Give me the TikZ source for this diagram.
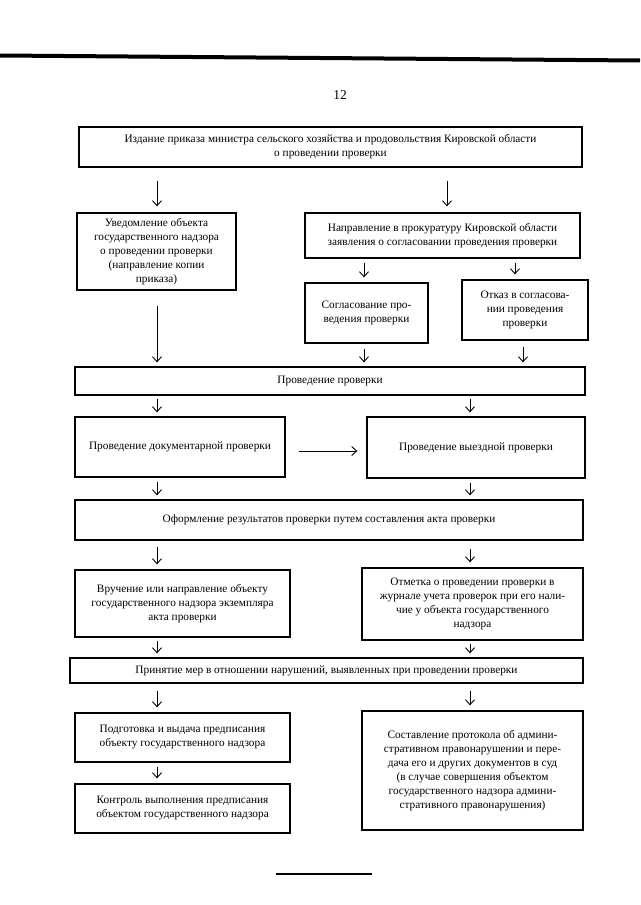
\documentclass[tikz,border=0pt]{standalone}
\usepackage{fontspec}
\setmainfont{Liberation Serif}
\usetikzlibrary{arrows.meta}
\tikzset{
  box/.style={draw, line width=1.3pt, align=center, inner sep=2pt, font=\fontsize{11.3}{14}\selectfont},
  arr/.style={line width=0.9pt, -{Straight Barb[length=5pt,width=9pt,line width=0.9pt]}},
}
\begin{document}
\begin{tikzpicture}[x=1pt,y=-1pt]
\useasboundingbox (0,0) rectangle (640,905);
\fill[white] (0,0) rectangle (640,905);
% header rule and page number
\draw[line width=4pt] (0,55.5) -- (640,60.5);
\node[font=\fontsize{13.5}{16}\selectfont] (pg) at (340,95) {12};

% column coordinates
\coordinate (L) at (157,0);
\coordinate (R) at (470,0);

\node[box, minimum width=503pt, minimum height=40pt] (b1) at (330.5,147)
  {Издание приказа министра сельского хозяйства и продовольствия Кировской области\\о проведении проверки};
\node[box, minimum width=159pt, minimum height=77pt] (b2) at (156.5,251.5)
  {Уведомление объекта\\государственного надзора\\о проведении проверки\\(направление копии\\приказа)};
\node[box, minimum width=275pt, minimum height=45pt] (b3) at (442.5,235.5)
  {Направление в прокуратуру Кировской области\\заявления о согласовании проведения проверки};
\node[box, minimum width=123pt, minimum height=60pt] (b4) at (366.5,313)
  {Согласование про-\\ведения проверки};
\node[box, minimum width=126pt, minimum height=60pt] (b5) at (525,310)
  {Отказ в согласова-\\нии проведения\\проверки};
\node[box, minimum width=510pt, minimum height=28pt] (b6) at (330,381)
  {Проведение проверки};
\node[box, minimum width=210pt, minimum height=60pt] (b7) at (180,447)
  {Проведение документарной проверки};
\node[box, minimum width=218pt, minimum height=61pt] (b8) at (476,447.5)
  {Проведение выездной проверки};
\node[box, minimum width=508pt, minimum height=40pt] (b9) at (329,520)
  {Оформление результатов проверки путем составления акта проверки};
\node[box, minimum width=215pt, minimum height=67pt] (b10) at (182.5,603.5)
  {Вручение или направление объекту\\государственного надзора экземпляра\\акта проверки};
\node[box, minimum width=221pt, minimum height=72pt] (b11) at (472.5,604)
  {Отметка о проведении проверки в\\журнале учета проверок при его нали-\\чие у объекта государственного\\надзора};
\node[box, minimum width=513pt, minimum height=25pt] (b12) at (326.5,670.5)
  {Принятие мер в отношении нарушений, выявленных при проведении проверки};
\node[box, minimum width=215pt, minimum height=49pt] (b13) at (182.5,737.5)
  {Подготовка и выдача предписания\\объекту государственного надзора};
\node[box, minimum width=215pt, minimum height=49pt] (b14) at (182.5,808.5)
  {Контроль выполнения предписания\\объектом государственного надзора};
\node[box, minimum width=221pt, minimum height=119pt] (b15) at (472.5,770.5)
  {Составление протокола об админи-\\стративном правонарушении и пере-\\дача его и других документов в суд\\(в случае совершения объектом\\государственного надзора админи-\\стративного правонарушения)};

% extra column coordinates
\coordinate (x447) at (447,0);
\coordinate (x364) at (364,0);
\coordinate (x515) at (515,0);
\coordinate (x523) at (523,0);

% connectors
\draw[arr, shorten <=13pt, shorten >=6pt] (b1.south -| L) -- (b2.north -| L);
\draw[arr, shorten <=13pt, shorten >=6pt] (b1.south -| x447) -- (b3.north -| x447);
\draw[arr, shorten <=4pt, shorten >=5pt] (b3.south -| x364) -- (b4.north -| x364);
\draw[arr, shorten <=4pt, shorten >=5pt] (b3.south -| x515) -- (b5.north -| x515);
\draw[arr, shorten <=15pt, shorten >=4pt] (b2.south -| L) -- (b6.north -| L);
\draw[arr, shorten <=5pt, shorten >=4pt] (b4.south -| x364) -- (b6.north -| x364);
\draw[arr, shorten <=6pt, shorten >=4pt] (b5.south -| x523) -- (b6.north -| x523);
\draw[arr, shorten <=3pt, shorten >=4pt] (b6.south -| L) -- (b7.north -| L);
\draw[arr, shorten <=3pt, shorten >=4pt] (b6.south -| R) -- (b8.north -| R);
\draw[arr, shorten <=13pt, shorten >=9pt] ([yshift=-4pt]b7.east) -- ([yshift=-4pt]b7.east -| b8.west);
\draw[arr, shorten <=4pt, shorten >=4pt] (b7.south -| L) -- (b9.north -| L);
\draw[arr, shorten <=4pt, shorten >=4pt] (b8.south -| R) -- (b9.north -| R);
\draw[arr, shorten <=6pt, shorten >=5pt] (b9.south -| L) -- (b10.north -| L);
\draw[arr, shorten <=8pt, shorten >=5pt] (b9.south -| R) -- (b11.north -| R);
\draw[arr, shorten <=3pt, shorten >=4pt] (b10.south -| L) -- (b12.north -| L);
\draw[arr, shorten <=3pt, shorten >=4pt] (b11.south -| R) -- (b12.north -| R);
\draw[arr, shorten <=7pt, shorten >=5pt] (b12.south -| L) -- (b13.north -| L);
\draw[arr, shorten <=7pt, shorten >=5pt] (b12.south -| R) -- (b15.north -| R);
\draw[arr, shorten <=4pt, shorten >=5pt] (b13.south -| L) -- (b14.north -| L);

% footer rule
\coordinate (f1) at (276,874);
\coordinate (f2) at (372,874);
\draw[line width=1.2pt] (f1) -- (f2);
\end{tikzpicture}
\end{document}
